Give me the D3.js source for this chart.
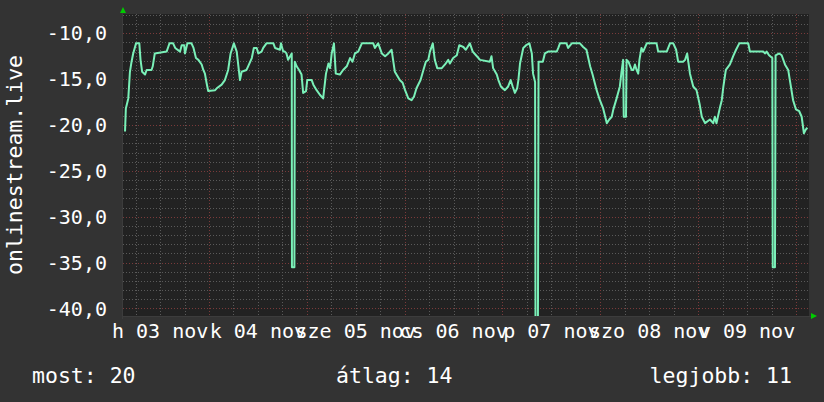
<!DOCTYPE html>
<html>
<head>
<meta charset="utf-8">
<script src="https://cdn.jsdelivr.net/npm/d3@7"></script>
<style>
  html, body { margin: 0; padding: 0; background: #333333; }
  svg { display: block; }
  text { font-family: "DejaVu Sans Mono", monospace; fill: #ffffff; }
</style>
</head>
<body>
<svg id="chart" width="824" height="402"></svg>
<script>
// hours since 2025-11-03 00:00, and the value at that time
const hours = [
  3.4, 3.6, 4.2, 4.6, 5.0, 5.4, 6.1, 6.9, 7.2, 7.6, 8.3, 8.7, 9.9, 10.2, 10.7, 13.6, 14.0, 14.3, 15.2, 15.7,
  16.9, 17.3, 17.9, 18.1, 18.7, 19.7, 20.2, 20.8, 21.4, 22.2, 22.6, 23.0, 23.4, 23.8, 25.5, 25.9, 27.1, 27.9, 28.7, 29.3,
  30.1, 30.8, 31.6, 32.0, 33.2, 33.6, 34.5, 35.0, 35.7, 36.1, 36.9, 37.3, 38.1, 39.8, 40.2, 41.4, 41.65, 42.2, 42.6, 43.0,
  43.4, 44.3, 44.35, 44.95, 45.05, 45.5, 46.1, 46.7, 47.1, 47.8, 48.1, 49.2, 49.6, 50.4, 51.2, 52.0, 52.7, 53.3, 53.7, 54.1,
  54.65, 55.1, 56.1, 56.9, 57.8, 58.6, 59.2, 59.8, 60.6, 61.5, 64.3, 64.7, 65.5, 66.4, 67.2, 68.0, 68.8, 69.6, 70.8, 71.5,
  72.1, 72.9, 73.7, 74.3, 74.9, 75.9, 76.6, 77.2, 77.8, 78.2, 78.9, 79.4, 80.0, 81.1, 81.9, 82.7, 83.1, 83.9, 84.8, 85.4,
  86.4, 87.0, 88.0, 88.7, 89.5, 90.5, 92.9, 93.3, 93.7, 94.6, 95.0, 95.6, 96.6, 97.4, 98.0, 98.5, 99.05, 99.6, 99.9, 100.3,
  101.1, 101.8, 102.6, 103.2, 103.5, 104.0, 104.1, 104.7, 104.85, 105.9, 106.4, 107.2, 109.3, 109.7, 110.1, 111.7, 112.1, 113.0, 115.0, 115.8,
  116.6, 117.5, 118.1, 119.1, 119.9, 120.7, 121.6, 122.2, 122.8, 123.2, 124.0, 124.8, 125.2, 125.6, 125.75, 126.3, 126.45, 126.9, 127.7, 128.1,
  128.5, 128.9, 129.3, 129.6, 130.1, 130.5, 131.4, 133.8, 134.2, 136.3, 137.1, 137.9, 138.6, 139.1, 140.3, 140.8, 141.3, 142.0, 142.8, 143.6,
  144.4, 144.9, 145.7, 146.9, 147.7, 148.1, 148.5, 149.4, 149.8, 150.2, 150.8, 151.8, 152.6, 153.3, 154.1, 156.3, 156.7, 160.0, 160.4, 160.8,
  161.4, 162.2, 162.3, 162.85, 163.0, 163.9, 164.5, 165.3, 166.1, 166.5, 167.3, 168.0, 168.8, 169.4, 169.95, 170.4, 170.8
];
const values = [
  -20.7, -18.2, -17.1, -14.2, -13.1, -12.2, -11.1, -11.1, -12.9, -14.2, -14.5, -14.0, -14.0, -13.6, -12.2, -12.0, -11.5, -11.1, -11.1, -11.6,
  -12.0, -11.3, -11.3, -12.2, -11.1, -11.1, -11.6, -12.7, -12.9, -13.4, -14.0, -14.4, -15.4, -16.3, -16.2, -16.0, -15.6, -15.1, -14.0, -12.2,
  -11.1, -12.0, -15.1, -14.2, -14.0, -13.6, -12.7, -11.6, -11.6, -12.2, -12.0, -11.6, -11.1, -11.1, -11.6, -11.8, -11.1, -12.0, -12.0, -12.2,
  -12.9, -12.2, -35.5, -35.5, -13.1, -13.6, -14.0, -14.5, -16.5, -16.3, -15.1, -15.1, -15.6, -16.2, -16.7, -17.1, -14.4, -13.3, -13.8, -12.2,
  -11.1, -14.4, -14.5, -14.0, -13.6, -12.7, -13.1, -12.2, -12.0, -11.1, -11.1, -11.6, -11.1, -12.2, -12.5, -12.2, -11.8, -14.2, -15.1, -15.4,
  -16.2, -17.1, -17.3, -16.9, -16.0, -15.1, -14.0, -13.1, -12.9, -12.0, -11.1, -12.9, -13.8, -13.8, -13.4, -12.9, -13.3, -12.7, -12.4, -11.3,
  -11.5, -11.8, -11.1, -12.0, -12.4, -12.9, -13.1, -12.5, -13.8, -14.5, -15.1, -15.8, -16.2, -15.8, -15.1, -15.8, -16.5, -16.0, -15.1, -13.3,
  -11.6, -11.3, -11.1, -12.2, -14.4, -15.3, -41.0, -41.0, -13.1, -13.1, -12.2, -12.0, -12.0, -11.6, -11.1, -11.1, -11.6, -11.1, -11.1, -11.5,
  -11.8, -13.6, -14.5, -16.2, -17.3, -18.2, -19.8, -19.4, -19.1, -18.3, -17.1, -15.8, -14.2, -12.9, -19.1, -19.1, -12.9, -13.1, -14.0, -14.0,
  -13.4, -14.0, -14.4, -12.9, -11.6, -12.0, -11.1, -11.1, -12.0, -12.0, -11.1, -11.1, -11.8, -13.1, -13.1, -12.9, -12.2, -14.4, -15.8, -16.2,
  -17.8, -19.1, -19.8, -19.4, -19.8, -19.1, -19.8, -18.0, -17.3, -15.8, -14.0, -13.4, -12.5, -11.8, -11.1, -11.1, -12.0, -12.0, -12.2, -12.0,
  -12.4, -12.7, -35.5, -35.5, -12.4, -12.2, -12.4, -13.4, -14.0, -15.1, -17.3, -18.3, -18.5, -19.1, -20.9, -20.5, -20.3
];

const seriesName = "onlinestream.live";
const yTicks = [-40, -35, -30, -25, -20, -15, -10];
const shortDays = ["v", "h", "k", "sze", "cs", "p", "szo"];
const shortMonths = ["jan", "febr", "márc", "ápr", "máj", "jún", "júl", "aug", "szept", "okt", "nov", "dec"];
const legendLabels = ["most", "átlag", "legjobb"];
const legendValues = [20, 14, 11];

const t0 = new Date(2025, 10, 3);
const toDate = (h) => new Date(t0.getTime() + h * 3600e3);

const svg = d3.select("#chart");
const plotLeft = 123, plotRight = 809, plotTop = 14, plotBottom = 316;

const x = d3.scaleTime()
    .domain([toDate(2.9), toDate(171.2)])
    .range([plotLeft, plotRight]);
const y = d3.scaleLinear()
    .domain([-40.82, -7.9])
    .range([plotBottom, plotTop]);

const timeLocale = d3.timeFormatLocale({
    dateTime: "%Y. %B %d. %X", date: "%Y. %m. %d.", time: "%H:%M:%S",
    periods: ["de.", "du."],
    days: ["vasárnap", "hétfő", "kedd", "szerda", "csütörtök", "péntek", "szombat"],
    shortDays: shortDays,
    months: ["január", "február", "március", "április", "május", "június", "július", "augusztus", "szeptember", "október", "november", "december"],
    shortMonths: shortMonths
});
const dayFormat = timeLocale.format("%a %d %b");
const numFormat = d3.formatLocale({ decimal: ",", thousands: " ", grouping: [3], currency: ["", " Ft"], minus: "-" }).format(".1f");

// plot background
svg.append("rect")
    .attr("x", plotLeft).attr("y", plotTop)
    .attr("width", plotRight - plotLeft).attr("height", plotBottom - plotTop)
    .attr("fill", "#222222");

const grid = svg.append("g").attr("shape-rendering", "crispEdges");
const px = (v) => Math.round(v) + 0.5;

// minor grid
grid.selectAll("line.hmin")
    .data(d3.range(-40, -7, 1).filter((v) => v % 5 !== 0))
    .enter().append("line")
    .attr("x1", plotLeft).attr("x2", plotRight)
    .attr("y1", (d) => px(y(d))).attr("y2", (d) => px(y(d)))
    .attr("stroke", "#5a5a5a").attr("stroke-dasharray", "1,2");

const dayTicks = x.ticks(d3.timeDay.every(1));
grid.selectAll("line.vmin")
    .data(x.ticks(d3.timeHour.every(6)).filter((d) => d.getHours() !== 0))
    .enter().append("line")
    .attr("y1", plotTop).attr("y2", plotBottom)
    .attr("x1", (d) => px(x(d))).attr("x2", (d) => px(x(d)))
    .attr("stroke", "#5a5a5a").attr("stroke-dasharray", "1,2");

// major grid
grid.selectAll("line.hmaj")
    .data(yTicks)
    .enter().append("line")
    .attr("x1", plotLeft).attr("x2", plotRight)
    .attr("y1", (d) => px(y(d))).attr("y2", (d) => px(y(d)))
    .attr("stroke", "#7a3a3a").attr("stroke-dasharray", "1,2");

grid.selectAll("line.vmaj")
    .data(dayTicks)
    .enter().append("line")
    .attr("y1", plotTop).attr("y2", plotBottom)
    .attr("x1", (d) => px(x(d))).attr("x2", (d) => px(x(d)))
    .attr("stroke", "#7a3a3a").attr("stroke-dasharray", "1,2");

// axis lines
svg.append("line")
    .attr("x1", plotLeft).attr("x2", plotRight + 2).attr("y1", plotBottom + 0.5).attr("y2", plotBottom + 0.5)
    .attr("stroke", "#3c3c3c");
svg.append("line")
    .attr("x1", plotLeft - 0.5).attr("x2", plotLeft - 0.5).attr("y1", plotTop - 2).attr("y2", plotBottom + 3)
    .attr("stroke", "#3c3c3c");

// arrows
svg.append("path")
    .attr("d", `M${plotLeft - 3},${plotTop - 1}L${plotLeft + 3},${plotTop - 1}L${plotLeft},${plotTop - 7}Z`)
    .attr("fill", "#00cc00");
svg.append("path")
    .attr("d", `M${plotRight + 2},${plotBottom - 3}L${plotRight + 2},${plotBottom + 3}L${plotRight + 8},${plotBottom}Z`)
    .attr("fill", "#00cc00");

// series line
svg.append("clipPath").attr("id", "plot-clip")
    .append("rect")
    .attr("x", plotLeft).attr("y", plotTop)
    .attr("width", plotRight - plotLeft).attr("height", plotBottom - plotTop);

const series = hours.map((h, i) => ({ t: toDate(h), v: values[i] }));
const line = d3.line()
    .x((d) => x(d.t))
    .y((d) => y(d.v));

svg.append("path")
    .datum(series)
    .attr("clip-path", "url(#plot-clip)")
    .attr("d", line)
    .attr("fill", "none")
    .attr("stroke", "#7af0b8")
    .attr("stroke-width", 2)
    .attr("stroke-linejoin", "round");

// y tick labels
svg.append("g").selectAll("text")
    .data(yTicks)
    .enter().append("text")
    .attr("x", 107)
    .attr("y", (d) => y(d))
    .attr("dy", "0.36em")
    .attr("text-anchor", "end")
    .style("font-size", "20px")
    .text((d) => numFormat(d));

// x labels centred at midday
const labelDays = d3.timeDay.range(d3.timeDay.floor(x.domain()[0]), x.domain()[1])
    .map((d) => d3.timeHour.offset(d, 12))
    .filter((d) => d < x.domain()[1]);
svg.append("g").selectAll("text")
    .data(labelDays)
    .enter().append("text")
    .attr("x", (d) => x(d))
    .attr("y", 338)
    .attr("text-anchor", "middle")
    .style("font-size", "20px")
    .text((d) => dayFormat(d));

// vertical title
svg.append("text")
    .attr("transform", `translate(14,${(plotTop + plotBottom) / 2}) rotate(-90)`)
    .attr("text-anchor", "middle")
    .attr("dy", "0.35em")
    .style("font-size", "21.5px")
    .text(seriesName);

// legend
const legendX = [32, 336, 792];
const legendAnchor = ["start", "start", "end"];
svg.append("g").selectAll("text")
    .data(legendLabels)
    .enter().append("text")
    .attr("x", (d, i) => legendX[i])
    .attr("y", 383)
    .attr("text-anchor", (d, i) => legendAnchor[i])
    .style("font-size", "21.5px")
    .text((d, i) => `${d}: ${legendValues[i]}`);
</script>
</body>
</html>
